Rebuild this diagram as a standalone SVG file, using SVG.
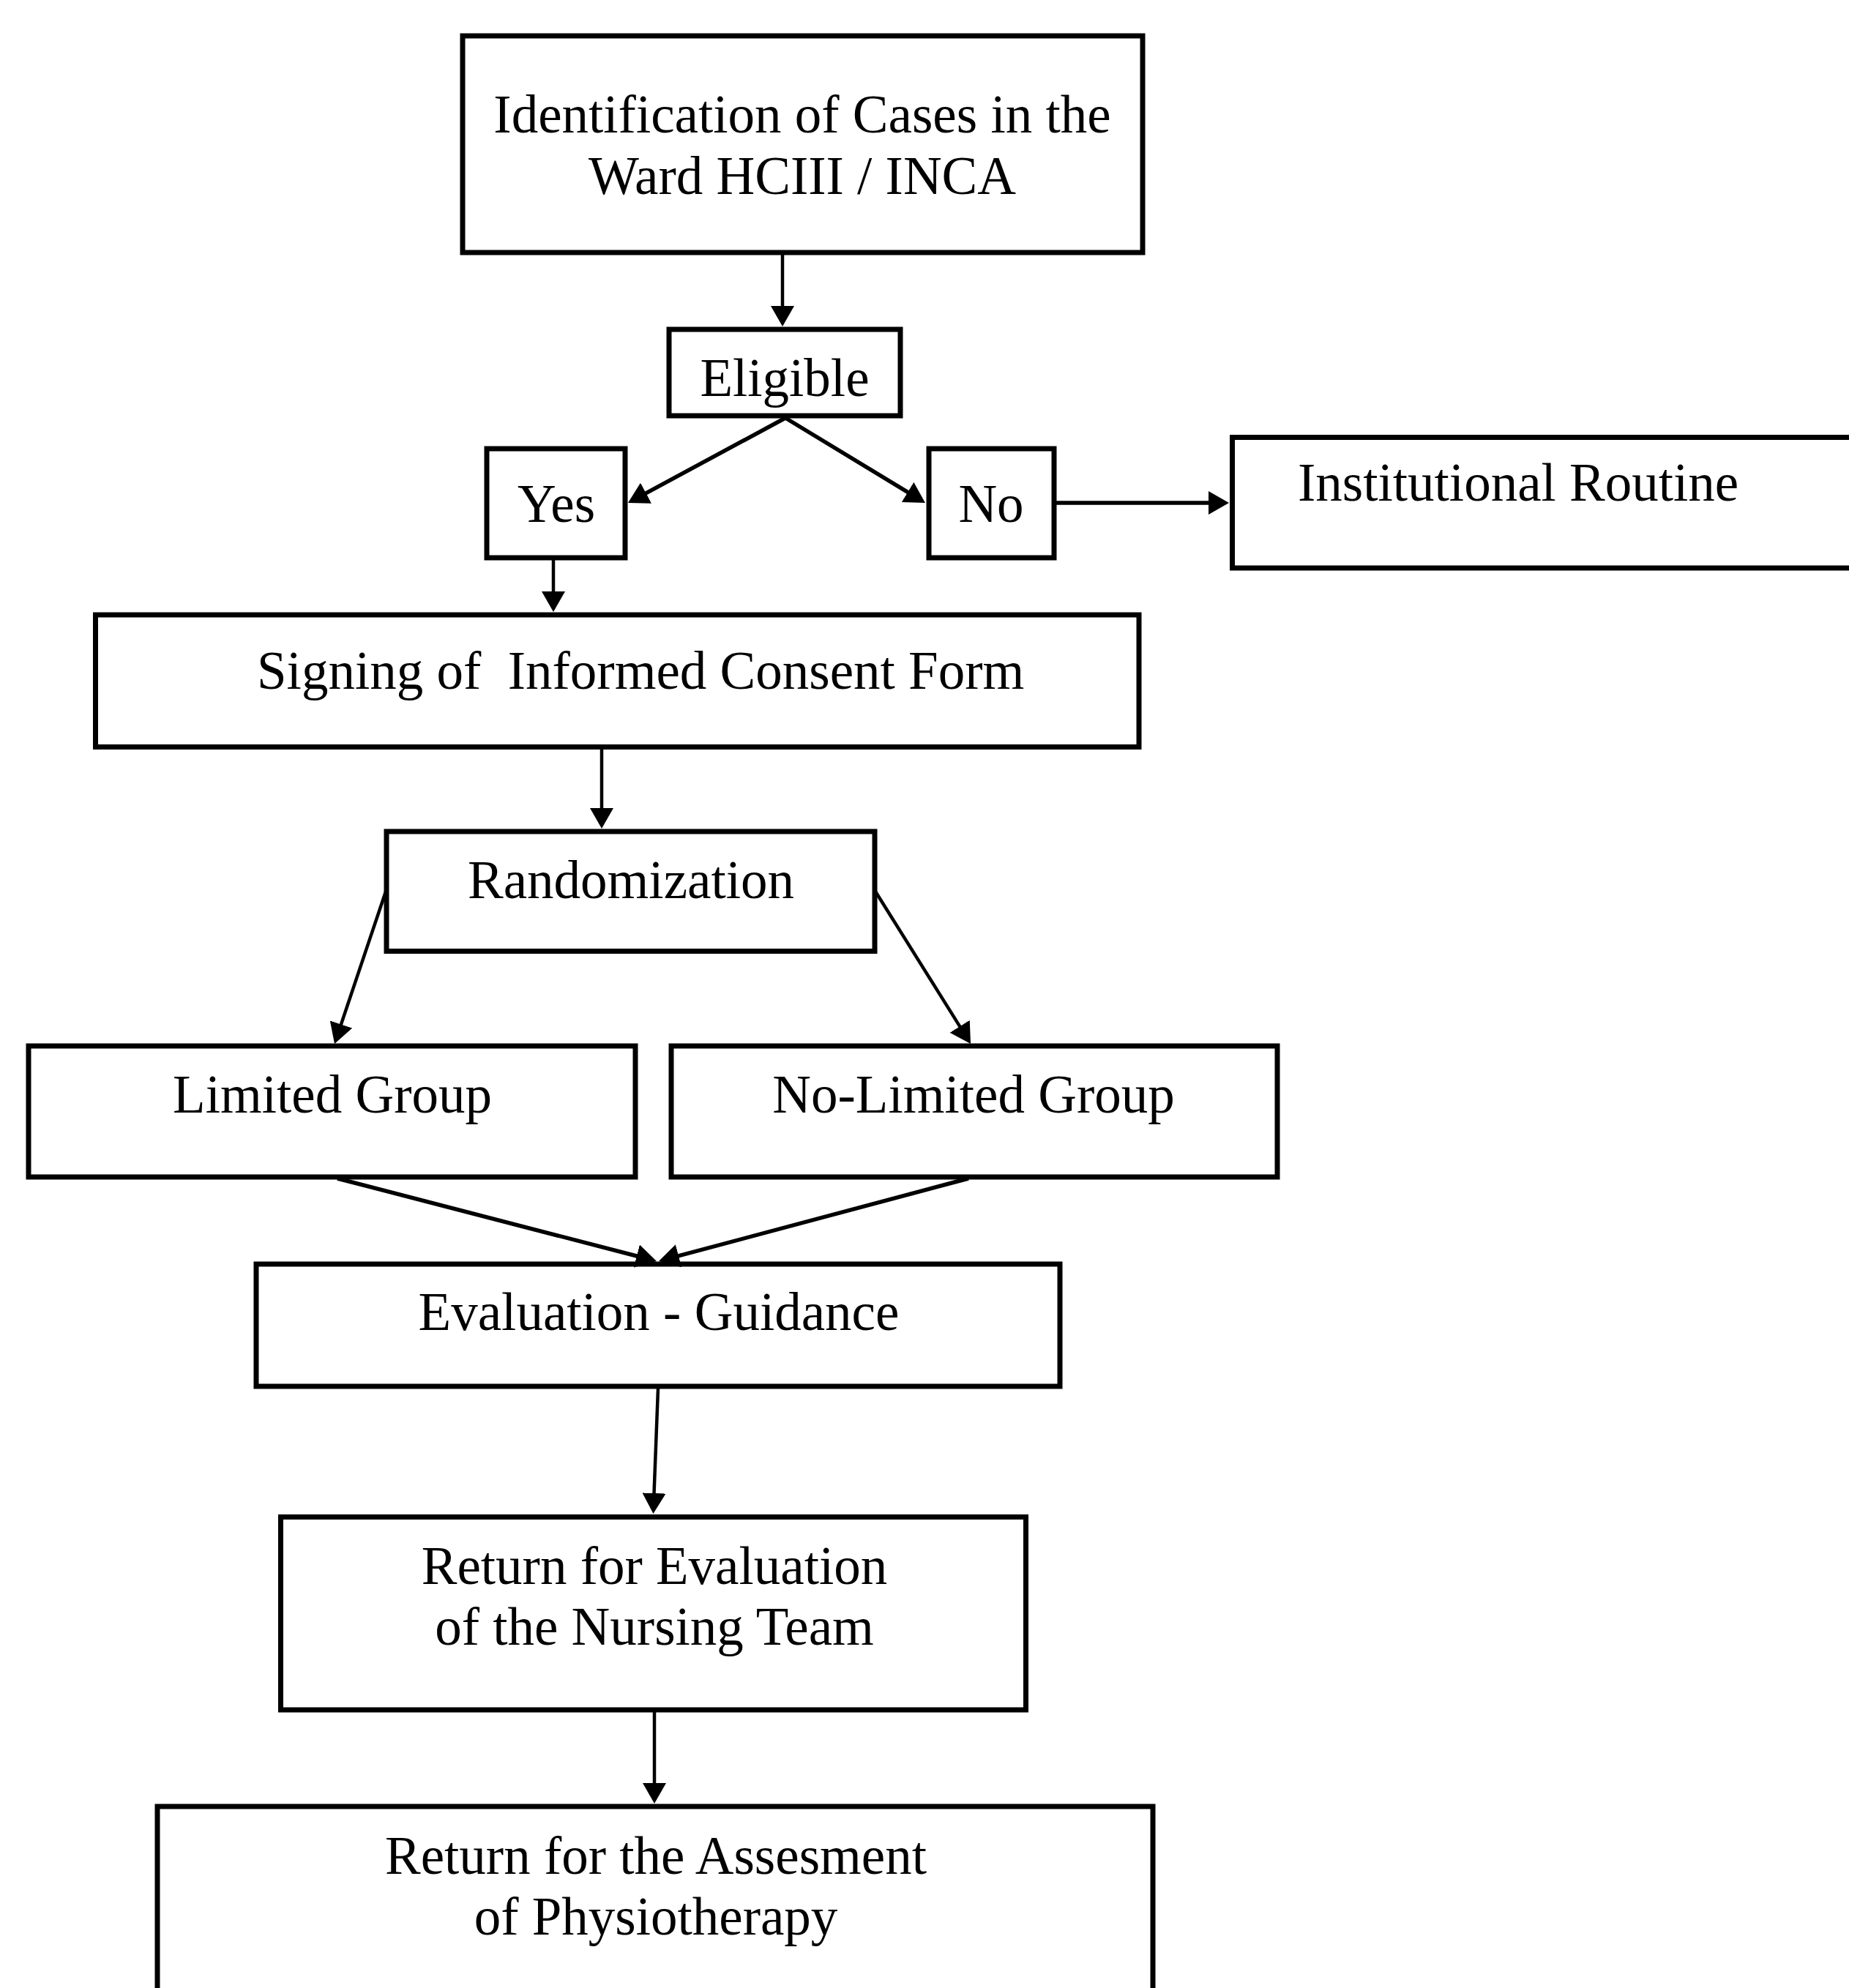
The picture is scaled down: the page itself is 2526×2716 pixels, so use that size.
<svg xmlns="http://www.w3.org/2000/svg" width="2526" height="2716" viewBox="0 0 2526 2716">
<style>
.box{fill:#fff;stroke:#000;stroke-width:7}
.lbl{font-family:"Liberation Serif","Times New Roman",serif;font-size:73px;fill:#000;text-anchor:middle}
.c{stroke:#000;stroke-width:4.5;fill:none;marker-end:url(#ah)}
.ct{stroke:#000;stroke-width:5.5;fill:none;marker-end:url(#ah)}
</style>
<defs>
<marker id="ah" viewBox="0 0 28 32" refX="14" refY="16" markerWidth="28" markerHeight="32" markerUnits="userSpaceOnUse" orient="auto">
<path d="M0,0 L28,16 L0,32 z" fill="#000"/>
</marker>
</defs>
<rect width="2526" height="2716" fill="#fff"/>
<g id="n1"><rect class="box" x="632" y="49" width="929" height="296"/>
<text class="lbl" x="1096" y="181">Identification of Cases in the</text>
<text class="lbl" x="1096" y="265">Ward HCIII / INCA</text></g>
<g id="n2"><rect class="box" x="914" y="450" width="316" height="118"/>
<text class="lbl" x="1072" y="541">Eligible</text></g>
<g id="n3"><rect class="box" x="665" y="613" width="189" height="149"/>
<text class="lbl" x="760" y="713">Yes</text></g>
<g id="n4"><rect class="box" x="1269" y="613" width="171" height="149"/>
<text class="lbl" x="1354" y="713">No</text></g>
<g id="n5"><rect class="box" x="1683.5" y="597.5" width="900" height="178.5"/>
<text class="lbl" x="1773" y="684" style="text-anchor:start">Institutional Routine</text></g>
<g id="n6"><rect class="box" x="130.5" y="840" width="1425.5" height="180.5"/>
<text class="lbl" x="351" y="941" style="text-anchor:start;white-space:pre" xml:space="preserve">Signing of  Informed Consent Form</text></g>
<g id="n7"><rect class="box" x="528" y="1136" width="667" height="163.5"/>
<text class="lbl" x="862" y="1227">Randomization</text></g>
<g id="n8"><rect class="box" x="39" y="1429" width="829" height="179"/>
<text class="lbl" x="454" y="1520">Limited Group</text></g>
<g id="n9"><rect class="box" x="917" y="1429" width="828" height="179"/>
<text class="lbl" x="1330" y="1520">No-Limited Group</text></g>
<g id="n10"><rect class="box" x="350" y="1727" width="1098" height="167"/>
<text class="lbl" x="900" y="1817">Evaluation - Guidance</text></g>
<g id="n11"><rect class="box" x="383.5" y="2072.5" width="1018" height="263.5"/>
<text class="lbl" x="894" y="2164">Return for Evaluation</text>
<text class="lbl" x="894" y="2247">of the Nursing Team</text></g>
<g id="n12"><rect class="box" x="215" y="2468" width="1360" height="300"/>
<text class="lbl" x="896" y="2560">Return for the Assesment</text>
<text class="lbl" x="896" y="2643">of Physiotherapy</text></g>
<g id="connectors">
<line class="c" x1="1069" y1="348" x2="1069" y2="432"/>
<line class="ct" x1="1073" y1="571" x2="870.3" y2="680.4"/>
<line class="ct" x1="1073" y1="571" x2="1252" y2="679.7"/>
<line class="ct" x1="1443" y1="687" x2="1665" y2="687"/>
<line class="c" x1="756" y1="765" x2="756" y2="822"/>
<line class="c" x1="822" y1="1023" x2="822" y2="1118"/>
<line class="c" x1="527" y1="1218" x2="461.5" y2="1412.7"/>
<line class="c" x1="1196" y1="1218" x2="1318.6" y2="1414.1"/>
<line class="ct" x1="461" y1="1610" x2="883.4" y2="1719.5"/>
<line class="ct" x1="1323" y1="1610" x2="913.5" y2="1719.4"/>
<line class="c" x1="899" y1="1897" x2="893" y2="2054"/>
<line class="c" x1="894" y1="2339" x2="894" y2="2450"/>
</g>
</svg>
